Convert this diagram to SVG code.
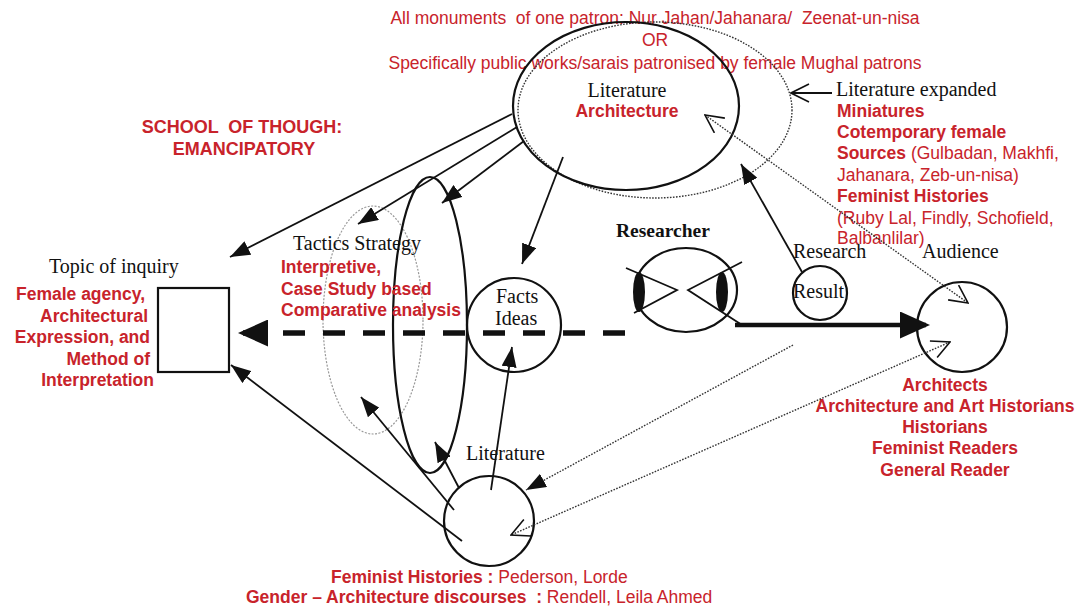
<svg xmlns="http://www.w3.org/2000/svg" width="1083" height="610" viewBox="0 0 1083 610">
<style>
.bg{fill:#fff}
.sf{font-family:"Liberation Serif","Times New Roman",serif;font-size:20px;fill:#111}
.sfb{font-family:"Liberation Serif","Times New Roman",serif;font-size:19.5px;font-weight:bold;fill:#111}
.rb{font-family:"Liberation Sans",Arial,sans-serif;font-size:17.5px;font-weight:bold;fill:#c8232b}
.rr{font-family:"Liberation Sans",Arial,sans-serif;font-size:17.5px;fill:#c8232b}
.rn{font-weight:normal}
.shape{fill:none;stroke:#111;stroke-width:2.2}
.ln{fill:none;stroke:#111;stroke-width:1.8}
.dot{fill:none;stroke:#333;stroke-width:1.4;stroke-dasharray:1.6 1.4}
.gray{fill:none;stroke:#999;stroke-width:1.2;stroke-dasharray:2 1.5}
</style>
<defs>
<marker id="tri" viewBox="0 0 20 15" refX="20" refY="7.5" markerWidth="20" markerHeight="15" markerUnits="userSpaceOnUse" orient="auto"><path d="M0,0 L20,7.5 L0,15 Z" fill="#111"/></marker>
<marker id="big" viewBox="0 0 30 27" refX="26" refY="13.5" markerWidth="30" markerHeight="27" markerUnits="userSpaceOnUse" orient="auto"><path d="M0,0 L30,13.5 L0,27 Z" fill="#111"/></marker>
<marker id="chev" viewBox="0 0 20 20" refX="19" refY="10" markerWidth="20" markerHeight="20" markerUnits="userSpaceOnUse" orient="auto-start-reverse"><path d="M1,1 L19,10 L1,19" fill="none" stroke="#111" stroke-width="1.6"/></marker>
</defs>
<rect class="bg" x="0" y="0" width="1083" height="610"/>

<g id="header">
<text class="rr" x="655" y="24" text-anchor="middle" xml:space="preserve">All monuments  of one patron: Nur Jahan/Jahanara/  Zeenat-un-nisa</text>
<text class="rr" x="655" y="46" text-anchor="middle">OR</text>
<text class="rr" x="655" y="69" text-anchor="middle">Specifically public works/sarais patronised by female Mughal patrons</text>
</g>

<g id="school">
<text class="rb" x="242" y="133" text-anchor="middle" style="font-size:18px" xml:space="preserve">SCHOOL  OF THOUGH:</text>
<text class="rb" x="244" y="155" text-anchor="middle" style="font-size:18px">EMANCIPATORY</text>
</g>

<g id="literature-top">
<ellipse class="dot" cx="655" cy="110" rx="137" ry="88"/>
<ellipse class="shape" cx="626" cy="106" rx="113" ry="84"/>
<text class="sf" x="627" y="97" text-anchor="middle">Literature</text>
<text class="rb" x="627" y="117" text-anchor="middle">Architecture</text>
</g>

<g id="literature-expanded">
<text class="sf" x="836" y="96">Literature expanded</text>
<text class="rb" x="837" y="117">Miniatures</text>
<text class="rb" x="837" y="138">Cotemporary female</text>
<text class="rb" x="837" y="159">Sources<tspan class="rn"> (Gulbadan, Makhfi,</tspan></text>
<text class="rr" x="837" y="181">Jahanara, Zeb-un-nisa)</text>
<text class="rb" x="837" y="202">Feminist Histories</text>
<text class="rr" x="837" y="224">(Ruby Lal, Findly, Schofield,</text>
<text class="rr" x="837" y="244">Balbanlilar)</text>
</g>

<g id="topic">
<text class="sf" x="49" y="273">Topic of inquiry</text>
<rect class="shape" x="158" y="288" width="71" height="84"/>
<text class="rb" x="145" y="300" text-anchor="end">Female agency,</text>
<text class="rb" x="148" y="322" text-anchor="end">Architectural</text>
<text class="rb" x="150" y="343" text-anchor="end">Expression, and</text>
<text class="rb" x="150" y="365" text-anchor="end">Method of</text>
<text class="rb" x="154" y="386" text-anchor="end">Interpretation</text>
</g>

<g id="tactics">
<ellipse class="gray" cx="373" cy="320" rx="50" ry="114"/>
<ellipse class="shape" cx="430" cy="325" rx="37" ry="148"/>
<text class="sf" x="293" y="250">Tactics Strategy</text>
<text class="rb" x="281" y="273">Interpretive,</text>
<text class="rb" x="281" y="295">Case Study based</text>
<text class="rb" x="281" y="316">Comparative analysis</text>
</g>

<g id="facts">
<circle class="shape" cx="514" cy="325" r="47"/>
<text class="sf" x="496" y="303">Facts</text>
<text class="sf" x="495" y="325">Ideas</text>
</g>

<g id="researcher">
<text class="sfb" x="616" y="237">Researcher</text>
<ellipse class="shape" cx="686" cy="290" rx="51" ry="42"/>
<ellipse cx="639" cy="292" rx="6" ry="20" fill="#111"/>
<ellipse cx="722" cy="292" rx="6" ry="20" fill="#111"/>
<polyline class="ln" points="626,268 677,290 634,313"/>
<polyline class="ln" points="742,262 688,290 742,325"/>
</g>

<g id="result">
<circle class="shape" cx="820" cy="293" r="27"/>
<text class="sf" x="793" y="258">Research</text>
<text class="sf" x="793" y="298">Result</text>
</g>

<g id="audience">
<circle class="shape" cx="962" cy="327" r="45"/>
<text class="sf" x="922" y="258">Audience</text>
<text class="rb" x="945" y="391" text-anchor="middle">Architects</text>
<text class="rb" x="945" y="412" text-anchor="middle">Architecture and Art Historians</text>
<text class="rb" x="945" y="433" text-anchor="middle">Historians</text>
<text class="rb" x="945" y="454" text-anchor="middle">Feminist Readers</text>
<text class="rb" x="945" y="476" text-anchor="middle">General Reader</text>
</g>

<g id="literature-bottom">
<circle class="shape" cx="489" cy="521" r="45"/>
<text class="sf" x="466" y="460">Literature</text>
<text class="rb" x="331" y="583">Feminist Histories :<tspan class="rn"> Pederson, Lorde</tspan></text>
<text class="rb" x="246" y="603" xml:space="preserve">Gender – Architecture discourses  :<tspan class="rn"> Rendell, Leila Ahmed</tspan></text>
</g>

<g id="connectors">
<path class="ln" d="M512,114 L230,257" marker-end="url(#tri)"/>
<path class="ln" d="M517,127 L358,224" marker-end="url(#tri)"/>
<path class="ln" d="M524,141 L442,203" marker-end="url(#tri)"/>
<path class="ln" d="M563,157 L522,264" marker-end="url(#tri)"/>
<path class="ln" d="M802,272 L741,164" marker-end="url(#tri)"/>
<path class="ln" d="M832,93 L791,93" marker-end="url(#chev)"/>
<path d="M625,333 L242,333" fill="none" stroke="#111" stroke-width="5.5" stroke-dasharray="22 18" marker-end="url(#big)"/>
<path d="M735,325 L926,325" fill="none" stroke="#111" stroke-width="4.5" marker-end="url(#big)"/>
<path class="ln" d="M462,541 L231,365" marker-end="url(#tri)"/>
<path class="ln" d="M454,510 L361,397" marker-end="url(#tri)"/>
<path class="ln" d="M459,488 L435,442" marker-end="url(#tri)"/>
<path class="ln" d="M491,490 L512,347" marker-end="url(#tri)"/>
<path class="dot" d="M793,345 L526,490" marker-end="url(#tri)"/>
<path class="dot" d="M950,342 L511,535" marker-start="url(#chev)" marker-end="url(#chev)"/>
<path class="dot" d="M705,115 L968,303" marker-start="url(#chev)" marker-end="url(#chev)"/>
</g>
</svg>
